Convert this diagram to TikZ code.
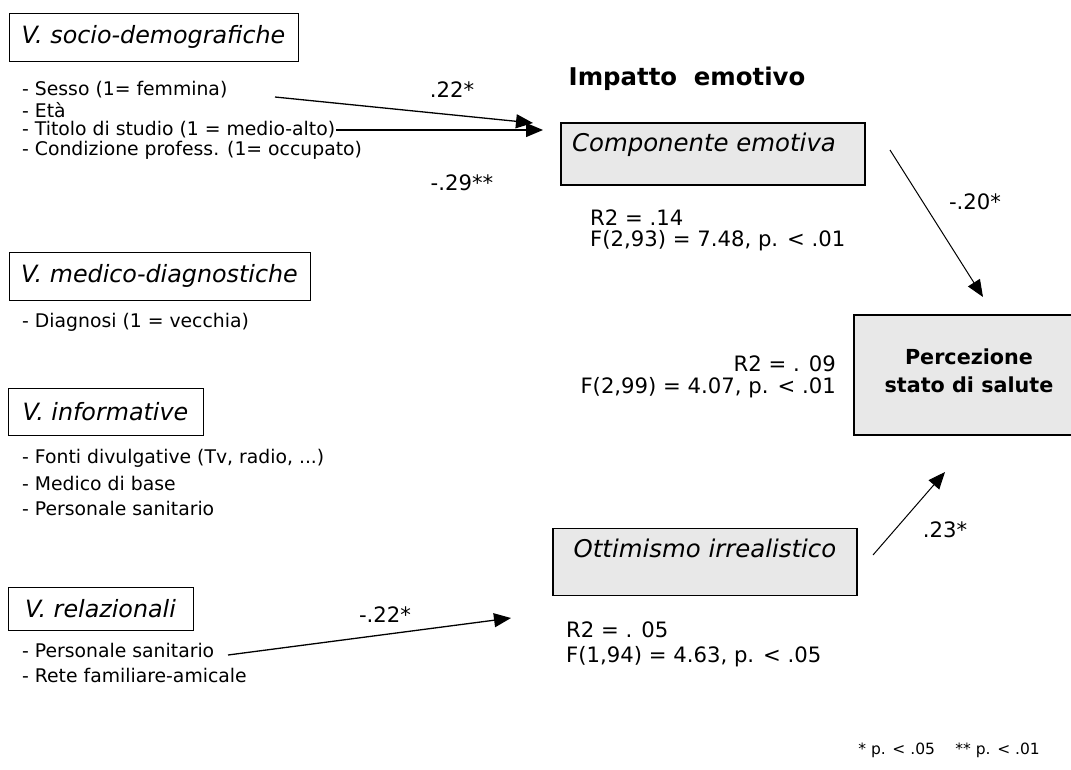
\documentclass[tikz,border=0pt]{standalone}
\usepackage{fontspec}
\setmainfont{DejaVu Sans}
\usetikzlibrary{arrows.meta}
\begin{document}
\begin{tikzpicture}[x=1pt,y=1pt,
  txt/.style={inner sep=0pt,font=\fontsize{18.8}{22}\selectfont},
  stat/.style={inner sep=0pt,font=\fontsize{21.2}{24}\selectfont},
  ttl/.style={draw,line width=0.9pt,inner sep=0pt,font=\fontsize{23.8}{26}\selectfont\itshape},
  med/.style={draw,line width=1.4pt,fill=black!9,inner sep=0pt},
  arr/.style={line width=1.3pt,-{Triangle[length=17pt,width=14pt]}},
  arrthin/.style={line width=1pt,-{Triangle[length=17pt,width=14pt]}}]
\useasboundingbox (0,0) rectangle (1071,-769);
% left title boxes
\node[ttl,minimum width=289pt,minimum height=48pt] (sd) at (153.5,-37) {V. socio-demografiche};
\node[ttl,minimum width=301pt,minimum height=48pt] (md) at (159.5,-276) {V. medico-diagnostiche};
\node[ttl,minimum width=195pt,minimum height=47pt] (inf) at (105.5,-411.5) {V. informative};
\node[ttl,minimum width=185pt,minimum height=43pt] (rel) at (100.5,-609) {V. relazionali};
% list items
\node[txt,anchor=west] (sesso) at (22,-90) {- Sesso (1= femmina)};
\node[txt,anchor=west] (eta) at (22,-110) {- Età};
\node[txt,anchor=west] (tit) at (22,-130) {- Titolo di studio (1 = medio-alto)};
\node[txt,anchor=west] (cond) at (22,-150) {- Condizione profess. (1= occupato)};
\node[txt,anchor=west] (diag) at (22,-322) {- Diagnosi (1 = vecchia)};
\node[txt,anchor=west] (fonti) at (22,-458) {- Fonti divulgative (Tv, radio, ...)};
\node[txt,anchor=west] (medb) at (22,-483) {- Medico di base};
\node[txt,anchor=west] (pers1) at (22,-508) {- Personale sanitario};
\node[txt,anchor=west] (pers2) at (22,-650) {- Personale sanitario};
\node[txt,anchor=west] (rete) at (22,-675) {- Rete familiare-amicale};
% mediators
\node[font=\fontsize{24.4}{28}\selectfont\bfseries,inner sep=0pt] (imp) at (687,-79) {Impatto\,\, emotivo};
\node[med,minimum width=304pt,minimum height=62pt] (comp) at (713,-154) {};
\node[font=\fontsize{24.4}{28}\selectfont\itshape,inner sep=0pt] (compt) at (704,-145) {Componente emotiva};
\node[med,minimum width=304pt,minimum height=67pt] (ott) at (705,-562) {};
\node[font=\fontsize{24.4}{28}\selectfont\itshape,inner sep=0pt] (ottt) at (705,-548) {Ottimismo irrealistico};
\node[med,minimum width=218pt,minimum height=120pt] (perc) at (963,-375) {};
\node[font=\fontsize{20.7}{28}\selectfont\bfseries,inner sep=0pt,align=center] (perct) at (969,-371) {Percezione\\stato di salute};
% statistics
\node[stat,anchor=west] (r1) at (590,-218) {R2 = .14};
\node[stat,anchor=west] (f1) at (590,-241) {F(2,93) = 7.48, p. < .01};
\node[stat,anchor=east] (r2) at (836,-364) {R2 = . 09};
\node[stat,anchor=east] (f2) at (836,-388) {F(2,99) = 4.07, p. < .01};
\node[stat,anchor=west] (r3) at (566,-630) {R2 = . 05};
\node[stat,anchor=west] (f3) at (566,-657) {F(1,94) = 4.63, p. < .05};
% coefficients
\node[stat] (c1) at (452,-90) {.22*};
\node[stat] (c2) at (462,-183) {-.29**};
\node[stat] (c3) at (975,-202) {-.20*};
\node[stat] (c4) at (945,-530) {.23*};
\node[stat] (c5) at (385,-615) {-.22*};
\node[inner sep=0pt,font=\fontsize{15.5}{18}\selectfont,anchor=east] (foot) at (1040,-750) {* p. < .05\quad\ ** p. < .01};
% arrows
\coordinate (a1s) at (275,-97);
\coordinate (a1e) at (533,-123);
\coordinate (a2s) at (336,-130);
\coordinate (a2e) at (543,-130);
\coordinate (a3s) at (890,-150);
\coordinate (a3e) at (983,-297);
\coordinate (a4s) at (873,-555);
\coordinate (a4e) at (945,-472);
\coordinate (a5s) at (228,-655);
\coordinate (a5e) at (511,-618);
\draw[arr] (a1s) -- (a1e);
\draw[arr] (a2s) -- (a2e);
\draw[arrthin] (a3s) -- (a3e);
\draw[arrthin] (a4s) -- (a4e);
\draw[arr] (a5s) -- (a5e);
\end{tikzpicture}
\end{document}
